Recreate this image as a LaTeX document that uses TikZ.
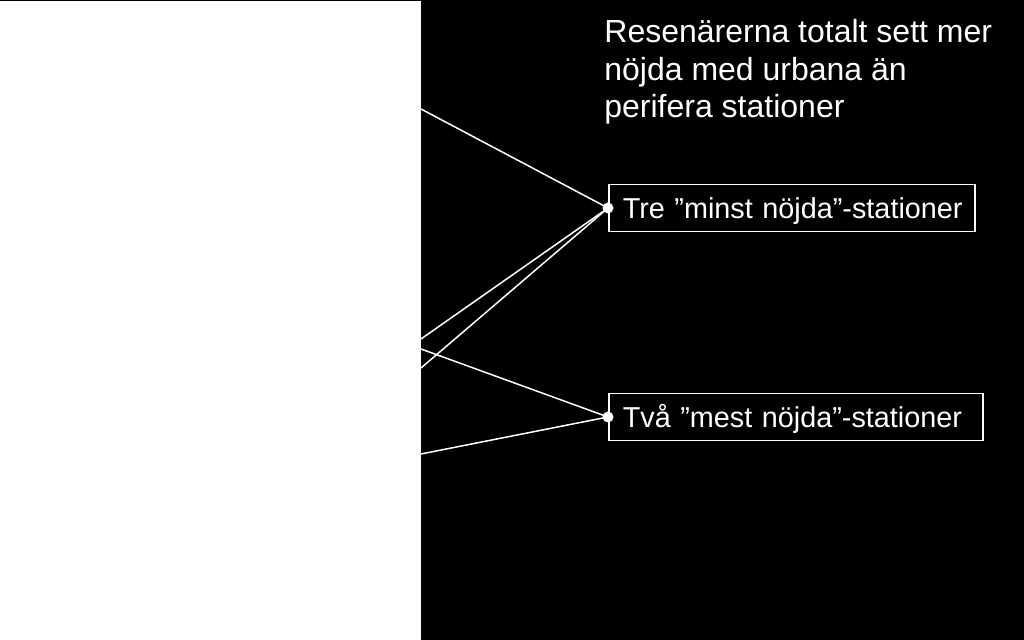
\documentclass[tikz,border=0pt]{standalone}
\usepackage{fontspec}
\setmainfont{Liberation Sans}
\usetikzlibrary{positioning}

\begin{document}
\begin{tikzpicture}[x=0.5pt, y=-0.5pt,
panel/.style = {rectangle, fill=white, minimum width=210.5pt, minimum height=320pt,
                inner sep=0pt, anchor=north west},
title/.style = {text=white, font=\fontsize{16pt}{18.85pt}\selectfont, align=left,
                inner sep=0pt, anchor=north west},
group/.style = {rectangle, draw=white, line width=0.75pt, text=white,
                font=\fontsize{14.4pt}{16pt}\selectfont, align=left, inner xsep=7pt,
                text height=10.5pt, text depth=0pt, minimum height=23.5pt, anchor=west},
dot/.style = {circle, fill=white, inner sep=0pt, minimum size=5.5pt},
link/.style ={draw=white, line width=0.75pt}]

\fill[black] (0,0) rectangle (1024,640);
\useasboundingbox (0,0) rectangle (1024,640);

\node [panel] (panel) at (0,1) {};

\node [title] (summary) at (604,19)
  {Resenärerna totalt sett mer\\nöjda med urbana än\\perifera stationer};

\node [group, text width=169pt] (least) at (608,208) {\mbox{Tre ”minst nöjda”-stationer}};
\node [group, text width=173pt] (most) at (608,417) {\mbox{Två ”mest nöjda”-stationer}};

\node [dot] (leastdot) at (least.west) {};
\node [dot] (mostdot) at (most.west) {};

% ends on the edge of the panel
\coordinate (u1) at (421,109);
\coordinate (u2) at (421,339);
\coordinate (u3) at (421,368);
\coordinate (u4) at (421,349);
\coordinate (u5) at (421,454);

\begin{scope}[every path/.style=link]
\path (u1) -- (leastdot.center);
\path (u2) -- (leastdot.center);
\path (u3) -- (leastdot.center);

\path (u4) -- (mostdot.center);
\path (u5) -- (mostdot.center);
\end{scope}
\end{tikzpicture}
\end{document}
